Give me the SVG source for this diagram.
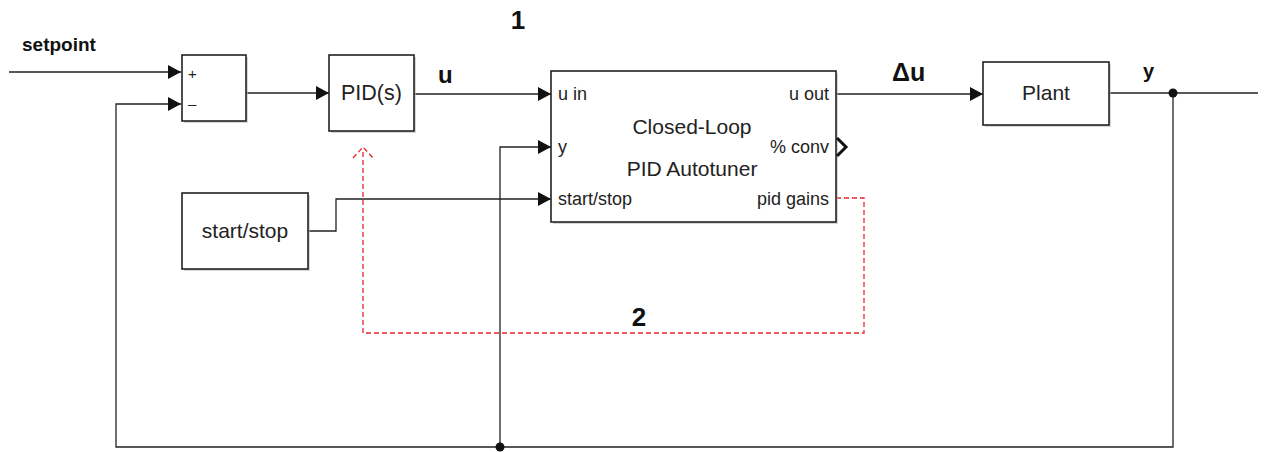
<svg xmlns="http://www.w3.org/2000/svg" width="1264" height="452" viewBox="0 0 1264 452">
<style>
.blk{fill:#fff;stroke:#222;stroke-width:1.6}
.shd{fill:#bbb;opacity:0.6}
.ln{fill:none;stroke:#222;stroke-width:1.3}
.red{fill:none;stroke:#e8262b;stroke-width:1.3;stroke-dasharray:5,3}
.t{font-family:"Liberation Sans",Arial,sans-serif;fill:#222}
.lbl{font-family:"Liberation Sans",Arial,sans-serif;font-weight:bold;fill:#111}
</style>
<defs>
<marker id="ah" markerUnits="userSpaceOnUse" markerWidth="13" markerHeight="14" refX="13" refY="7" orient="auto">
<path d="M0,0 L13,7 L0,14 z" fill="#111"/>
</marker>
</defs>
<rect width="1264" height="452" fill="#fff"/>
<g id="connectors">
<path class="ln" d="M9 72 H181" marker-end="url(#ah)"/>
<path class="ln" d="M246 93 H329" marker-end="url(#ah)"/>
<path class="ln" d="M414 94 H551" marker-end="url(#ah)"/>
<path class="ln" d="M836 94 H983" marker-end="url(#ah)"/>
<path class="ln" d="M1109 93 H1258"/>
<path class="ln" d="M1173 93 V447 H116 V104 H181" marker-end="url(#ah)"/>
<path class="ln" d="M500 447 V147 H551" marker-end="url(#ah)"/>
<path class="ln" d="M308 231 H336 V199 H551" marker-end="url(#ah)"/>
<circle cx="1173" cy="93" r="4.5" fill="#111"/>
<circle cx="500" cy="447" r="4.5" fill="#111"/>
<path class="red" d="M836 198 H864 V333 H363 V149"/>
<path class="red" d="M353 158 L363 147 L373 158" stroke-width="1.6"/>
</g>
<g id="sum">
<rect class="shd" x="184" y="57" width="64" height="66"/>
<rect class="blk" x="182" y="55" width="64" height="66"/>
<text class="t" x="188" y="79" font-size="15">+</text>
<text class="t" x="188" y="109" font-size="15">–</text>
</g>
<g id="pid">
<rect class="shd" x="331" y="57" width="85" height="76"/>
<rect class="blk" x="329" y="55" width="85" height="76"/>
<text class="t" x="371.5" y="100" font-size="21.5" text-anchor="middle">PID(s)</text>
</g>
<g id="autotuner">
<rect class="shd" x="553" y="73" width="285" height="151"/>
<rect class="blk" x="551" y="71" width="285" height="151"/>
<text class="t" x="692" y="134" font-size="21" text-anchor="middle">Closed-Loop</text>
<text class="t" x="692" y="176" font-size="21" text-anchor="middle">PID Autotuner</text>
<text class="t" x="558" y="100" font-size="18">u in</text>
<text class="t" x="558" y="153" font-size="18">y</text>
<text class="t" x="558" y="205" font-size="18">start/stop</text>
<text class="t" x="829" y="100" font-size="18" text-anchor="end">u out</text>
<text class="t" x="829" y="153" font-size="18" text-anchor="end">% conv</text>
<text class="t" x="829" y="205" font-size="18" text-anchor="end">pid gains</text>
<path d="M837 138 L846 147 L837 156" fill="none" stroke="#111" stroke-width="3"/>
</g>
<g id="plant">
<rect class="shd" x="985" y="64" width="126" height="63"/>
<rect class="blk" x="983" y="62" width="126" height="63"/>
<text class="t" x="1046" y="100" font-size="21" text-anchor="middle">Plant</text>
</g>
<g id="startstop">
<rect class="shd" x="184" y="195" width="126" height="76"/>
<rect class="blk" x="182" y="193" width="126" height="76"/>
<text class="t" x="245" y="238" font-size="21" text-anchor="middle">start/stop</text>
</g>
<g id="labels">
<text class="lbl" x="22" y="51" font-size="19">setpoint</text>
<text class="lbl" x="438" y="83" font-size="24">u</text>
<text class="lbl" x="518" y="29" font-size="26" text-anchor="middle">1</text>
<text class="lbl" x="892" y="81" font-size="25">Δu</text>
<text class="lbl" x="1143" y="78" font-size="20">y</text>
<text class="lbl" x="639" y="326" font-size="26" text-anchor="middle">2</text>
</g>
</svg>
